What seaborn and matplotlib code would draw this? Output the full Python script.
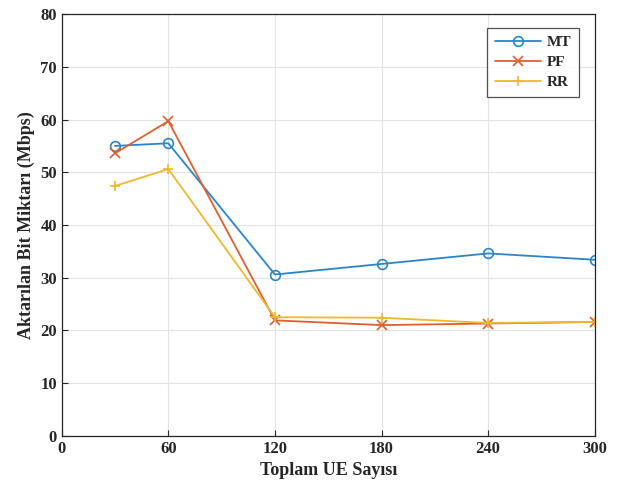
import numpy as np
import pandas as pd
import seaborn as sns
import matplotlib.pyplot as plt

ue = [30, 60, 120, 180, 240, 300]
mt = [55.0, 55.5, 30.6, 32.6, 34.6, 33.4]
pf = [53.6, 59.7, 21.9, 21.0, 21.3, 21.6]
rr = [47.4, 50.6, 22.5, 22.4, 21.4, 21.6]
schemes = ["MT", "PF", "RR"]

df = pd.DataFrame({"ue": ue * 3,
                   "rate": mt + pf + rr,
                   "scheme": np.repeat(schemes, len(ue))})

sns.set_style("white")
plt.rcParams['font.family'] = ['Liberation Serif', 'DejaVu Serif']
plt.rcParams['font.weight'] = 'bold'

fig = plt.figure(figsize=(6.3, 4.88), dpi=100)
ax = fig.add_axes([0.098, 0.107, 0.846, 0.864])

colors = {"MT": "#2a85c9", "PF": "#de5f30", "RR": "#efb82e"}
markers = {"MT": "o", "PF": "x", "RR": "+"}
for s in schemes:
    sub = df[df.scheme == s]
    sns.lineplot(data=sub, x="ue", y="rate", ax=ax, color=colors[s],
                 marker=markers[s], markersize=7, markerfacecolor="none",
                 markeredgecolor=colors[s], markeredgewidth=1.2,
                 linewidth=1.3, label=s)

ax.set_xlim(0, 300)
ax.set_ylim(0, 80)
ax.set_xticks([0, 60, 120, 180, 240, 300])
ax.set_yticks(range(0, 81, 10))
ax.grid(True, color="#e3e3e3", linewidth=0.8)
for sp in ax.spines.values():
    sp.set_color("#262626")
    sp.set_linewidth(0.9)
ax.tick_params(direction="in", length=4, labelsize=12, colors="#262626",
               top=False, right=False, bottom=True, left=True)
for lab in ax.get_xticklabels() + ax.get_yticklabels():
    lab.set_fontweight("bold")
ax.set_xlabel("Toplam UE Sayısı", fontsize=13, fontweight="bold")
ax.set_ylabel("Aktarılan Bit Miktarı (Mbps)", fontsize=13, fontweight="bold")

leg = ax.legend(loc="upper right", bbox_to_anchor=(0.985, 0.985),
                fontsize=11, frameon=True, fancybox=False,
                handlelength=3.0, handletextpad=0.4, borderpad=0.5,
                labelspacing=0.4)
leg.get_frame().set_edgecolor("#262626")
leg.get_frame().set_linewidth(0.9)
for t in leg.get_texts():
    t.set_fontweight("bold")

fig.savefig("out.png", dpi=100)
